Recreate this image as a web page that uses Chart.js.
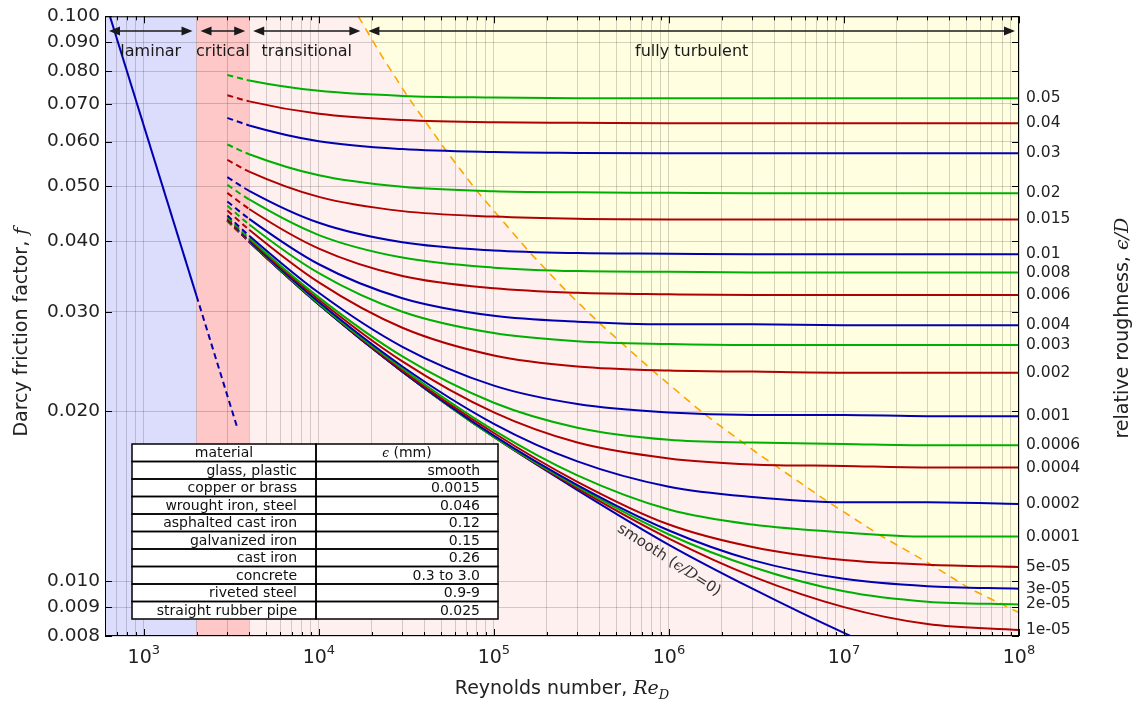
<!DOCTYPE html>
<html>
<head>
<meta charset="utf-8">
<script src="https://cdn.jsdelivr.net/npm/chart.js@4.4.1/dist/chart.umd.min.js"></script>
<style>
  html, body { margin: 0; padding: 0; background: #fff; }
  #wrap { width: 1142px; height: 704px; }
</style>
</head>
<body>
<div id="wrap"><canvas id="moody" width="1142" height="704"></canvas></div>
<script>
const reSamples = [3000, 4000, 1e4, 3e4, 1e5, 3e5, 1e6, 3e6, 1e7, 3e7, 1e8];

// relative roughness of each curve (top to bottom)
const roughLabels = ['0.05', '0.04', '0.03', '0.02', '0.015', '0.01', '0.008', '0.006', '0.004', '0.003',
  '0.002', '0.001', '0.0006', '0.0004', '0.0002', '0.0001', '5e-05', '3e-05', '2e-05', '1e-05'];

// friction factor of each curve at reSamples
const frictionCurves = [
  [0.0787, 0.0770, 0.0738, 0.0723, 0.0718, 0.0716, 0.0716, 0.0716, 0.0716, 0.0716, 0.0716],
  [0.0725, 0.0707, 0.0672, 0.0655, 0.0649, 0.0648, 0.0647, 0.0647, 0.0647, 0.0647, 0.0647],
  [0.0661, 0.0641, 0.0601, 0.0582, 0.0575, 0.0573, 0.0572, 0.0572, 0.0572, 0.0572, 0.0572],
  [0.0593, 0.0570, 0.0523, 0.0499, 0.0490, 0.0488, 0.0487, 0.0486, 0.0486, 0.0486, 0.0486],
  [0.0557, 0.0531, 0.0479, 0.0452, 0.0442, 0.0438, 0.0437, 0.0437, 0.0437, 0.0437, 0.0437],
  [0.0519, 0.0491, 0.0431, 0.0398, 0.0385, 0.0381, 0.0380, 0.0379, 0.0379, 0.0379, 0.0379],
  [0.0503, 0.0474, 0.0410, 0.0374, 0.0359, 0.0354, 0.0353, 0.0352, 0.0352, 0.0352, 0.0352],
  [0.0487, 0.0456, 0.0388, 0.0347, 0.0330, 0.0324, 0.0322, 0.0321, 0.0321, 0.0321, 0.0321],
  [0.0470, 0.0438, 0.0364, 0.0317, 0.0295, 0.0288, 0.0285, 0.0285, 0.0284, 0.0284, 0.0284],
  [0.0462, 0.0428, 0.0351, 0.0300, 0.0275, 0.0266, 0.0263, 0.0262, 0.0262, 0.0262, 0.0262],
  [0.0453, 0.0419, 0.0338, 0.0281, 0.0251, 0.0240, 0.0236, 0.0235, 0.0234, 0.0234, 0.0234],
  [0.0444, 0.0409, 0.0324, 0.0260, 0.0222, 0.0206, 0.0199, 0.0197, 0.0197, 0.0196, 0.0196],
  [0.0441, 0.0405, 0.0318, 0.0250, 0.0207, 0.0187, 0.0178, 0.0176, 0.0175, 0.0174, 0.0174],
  [0.0439, 0.0403, 0.0315, 0.0245, 0.0199, 0.0176, 0.0165, 0.0161, 0.0160, 0.0159, 0.0159],
  [0.0437, 0.0401, 0.0312, 0.0240, 0.0190, 0.0163, 0.0147, 0.0141, 0.0138, 0.0138, 0.0137],
  [0.0436, 0.0400, 0.0310, 0.0238, 0.0185, 0.0154, 0.0134, 0.0126, 0.0122, 0.0120, 0.0120],
  [0.0435, 0.0399, 0.0310, 0.0236, 0.0183, 0.0150, 0.0126, 0.0115, 0.0109, 0.0107, 0.0106],
  [0.0435, 0.0399, 0.0309, 0.0235, 0.0181, 0.0148, 0.0123, 0.0109, 0.0101, 0.0098, 0.0097],
  [0.0435, 0.0399, 0.0309, 0.0235, 0.0180, 0.0147, 0.0121, 0.0106, 0.0096, 0.0092, 0.0091],
  [0.0435, 0.0399, 0.0309, 0.0235, 0.0180, 0.0146, 0.0119, 0.0102, 0.0090, 0.0084, 0.0082]
];
const curveColors = ['#00b000', '#b00000', '#0000b0'];

// smooth pipe curve
const smoothRe = [3000, 4000, 1e4, 3e4, 1e5, 3e5, 1e6, 3e6, 1e7, 3e7];
const smoothF = [0.0435, 0.0399, 0.0309, 0.0235, 0.0180, 0.0145, 0.0116, 0.0097, 0.0081, 0.0070];

// laminar line (solid up to 2000, dashed after)
const laminarRe = [600, 2000, 3400];
const laminarF = [0.1067, 0.032, 0.0188];

// dashed boundary of the fully turbulent zone
const boundaryRe = [1.68e4, 2.29e4, 3.2e4, 5.33e4, 7.98e4, 1.59e5, 2.65e5, 3.98e5, 7.94e5, 1.58e6, 3.16e6, 7.89e6, 1.58e7, 3.15e7, 5.24e7, 1e8];
const boundaryF = [0.100, 0.0850, 0.0723, 0.0578, 0.0491, 0.0383, 0.0324, 0.0287, 0.0237, 0.0198, 0.0169, 0.0139, 0.0121, 0.0107, 0.0097, 0.0088];

// axes
const xDecades = [1e3, 1e4, 1e5, 1e6, 1e7, 1e8];
const xExponents = ['3', '4', '5', '6', '7', '8'];
const xMinorSteps = [2, 3, 4, 5, 6, 7, 8, 9];
const xLowMinors = [600, 700, 800, 900];
const yTicks = [0.008, 0.009, 0.010, 0.020, 0.030, 0.040, 0.050, 0.060, 0.070, 0.080, 0.090, 0.100];

// flow regimes
const regionEdges = [600, 2000, 4000, 18200, 1e8];
const regionNames = ['laminar', 'critical', 'transitional', 'fully turbulent'];

// material table
const materials = ['glass, plastic', 'copper or brass', 'wrought iron, steel', 'asphalted cast iron',
  'galvanized iron', 'cast iron', 'concrete', 'riveted steel', 'straight rubber pipe'];
const roughMm = ['smooth', '0.0015', '0.046', '0.12', '0.15', '0.26', '0.3 to 3.0', '0.9-9', '0.025'];

const FONT = '"DejaVu Sans", sans-serif';
const MATH = '"DejaVu Serif", serif';

const xTickValues = xLowMinors.slice();
xDecades.forEach(d => {
    xTickValues.push(d);
    if (d < 1e8) xMinorSteps.forEach(m => xTickValues.push(m * d));
});
const endValues = frictionCurves.map(c => c[c.length - 1]);

function pts(xs, ys) {
    return xs.map((x, i) => ({ x: x, y: ys[i] }));
}

const datasets = [];
frictionCurves.forEach((c, i) => {
    datasets.push({
        label: roughLabels[i],
        data: pts(reSamples, c),
        borderColor: curveColors[i % 3],
        borderWidth: 2,
        pointRadius: 0,
        cubicInterpolationMode: 'monotone',
        segment: { borderDash: ctx => ctx.p1.parsed.x <= 4000 ? [6, 4] : undefined }
    });
});
datasets.push({
    label: 'smooth',
    data: pts(smoothRe, smoothF),
    borderColor: '#0000b0',
    borderWidth: 2,
    pointRadius: 0,
    cubicInterpolationMode: 'monotone',
    segment: { borderDash: ctx => ctx.p1.parsed.x <= 4000 ? [6, 4] : undefined }
});
datasets.push({
    label: 'laminar',
    data: pts(laminarRe, laminarF),
    borderColor: '#0000b0',
    borderWidth: 2,
    pointRadius: 0,
    segment: { borderDash: ctx => ctx.p0.parsed.x >= 2000 ? [6, 4] : undefined }
});
datasets.push({
    label: 'boundary',
    data: pts(boundaryRe, boundaryF),
    borderColor: '#ffa500',
    borderWidth: 1.6,
    borderDash: [8, 6],
    pointRadius: 0
});

// draws a line of text made of differently styled parts, centred on (cx, cy)
function drawRich(ctx, parts, cx, cy, angle, baseline) {
    ctx.save();
    ctx.translate(cx, cy);
    ctx.rotate(angle);
    ctx.textBaseline = baseline || 'alphabetic';
    ctx.textAlign = 'left';
    let total = 0;
    parts.forEach(p => {
        ctx.font = p.font;
        p.w = ctx.measureText(p.text).width;
        total += p.w;
    });
    let x = -total / 2;
    parts.forEach(p => {
        ctx.font = p.font;
        ctx.fillStyle = p.color || '#222';
        ctx.fillText(p.text, x, p.dy || 0);
        x += p.w;
    });
    ctx.restore();
}

const backgrounds = {
    id: 'backgrounds',
    beforeDraw(chart) {
        const { ctx, chartArea: a, scales } = chart;
        const xs = scales.x, ys = scales.y;
        const fills = ['#dcdcfd', '#fec8c8', '#fff0f0'];
        ctx.save();
        fills.forEach((col, i) => {
            const x0 = xs.getPixelForValue(regionEdges[i]);
            const x1 = xs.getPixelForValue(i === 2 ? regionEdges[4] : regionEdges[i + 1]);
            ctx.fillStyle = col;
            ctx.fillRect(x0, a.top, x1 - x0, a.bottom - a.top);
        });
        // fully turbulent zone: above the dashed boundary
        ctx.fillStyle = '#fffee0';
        ctx.beginPath();
        boundaryRe.forEach((re, i) => {
            const px = xs.getPixelForValue(re), py = ys.getPixelForValue(boundaryF[i]);
            if (i === 0) ctx.moveTo(px, py); else ctx.lineTo(px, py);
        });
        ctx.lineTo(a.right, a.top);
        ctx.closePath();
        ctx.fill();
        ctx.restore();
    }
};

const annotations = {
    id: 'annotations',
    afterDatasetsDraw(chart) {
        const { ctx, scales } = chart;
        const xs = scales.x, ys = scales.y;
        ctx.save();

        // regime arrows
        const ay = 31;
        ctx.strokeStyle = '#1a1a1a';
        ctx.fillStyle = '#1a1a1a';
        ctx.lineWidth = 1.6;
        regionNames.forEach((name, i) => {
            const x0 = xs.getPixelForValue(regionEdges[i]) + 4;
            const x1 = xs.getPixelForValue(regionEdges[i + 1]) - 4;
            ctx.beginPath();
            ctx.moveTo(x0 + 6, ay);
            ctx.lineTo(x1 - 6, ay);
            ctx.stroke();
            ctx.beginPath();
            ctx.moveTo(x0, ay); ctx.lineTo(x0 + 11, ay - 4.5); ctx.lineTo(x0 + 11, ay + 4.5); ctx.closePath();
            ctx.moveTo(x1, ay); ctx.lineTo(x1 - 11, ay - 4.5); ctx.lineTo(x1 - 11, ay + 4.5); ctx.closePath();
            ctx.fill();
            ctx.font = '16px ' + FONT;
            ctx.textAlign = 'center';
            ctx.textBaseline = 'middle';
            ctx.fillText(name, (x0 + x1) / 2, 52);
        });

        // label along the smooth pipe curve
        drawRich(ctx, [
            { text: 'smooth (', font: '15px ' + FONT, color: '#333' },
            { text: '\u03f5/D', font: 'italic 15px ' + MATH, color: '#333' },
            { text: '=0)', font: '15px ' + FONT, color: '#333' }
        ], xs.getPixelForValue(1e6), ys.getPixelForValue(0.0109), 33 * Math.PI / 180, 'middle');

        // materials table
        const tx0 = 132, tx1 = 316, tx2 = 498, ty0 = 444, rh = 17.5;
        const rows = [['material', '']].concat(materials.map((m, i) => [m, roughMm[i]]));
        ctx.fillStyle = '#fff';
        ctx.fillRect(tx0, ty0, tx2 - tx0, rh * rows.length);
        ctx.strokeStyle = '#000';
        ctx.lineWidth = 1.5;
        ctx.font = '14px ' + FONT;
        ctx.textBaseline = 'middle';
        rows.forEach((r, i) => {
            const yTop = ty0 + i * rh;
            ctx.strokeRect(tx0, yTop, tx1 - tx0, rh);
            ctx.strokeRect(tx1, yTop, tx2 - tx1, rh);
            ctx.fillStyle = '#111';
            ctx.font = '14px ' + FONT;
            if (i === 0) {
                ctx.textAlign = 'center';
                ctx.fillText(r[0], (tx0 + tx1) / 2, yTop + rh / 2 + 1);
                drawRich(ctx, [
                    { text: '\u03f5', font: 'italic 12px ' + MATH, color: '#111' },
                    { text: ' (mm)', font: '14px ' + FONT, color: '#111' }
                ], (tx1 + tx2) / 2, yTop + rh / 2 + 1, 0, 'middle');
            } else {
                ctx.textAlign = 'right';
                ctx.fillText(r[0], tx1 - 19, yTop + rh / 2 + 1);
                ctx.fillText(r[1], tx2 - 18, yTop + rh / 2 + 1);
            }
        });
        ctx.restore();
    },
    afterDraw(chart) {
        const { ctx, chartArea: a, scales } = chart;
        ctx.save();
        // inward tick marks and frame
        ctx.strokeStyle = '#000';
        ctx.lineWidth = 1;
        ctx.beginPath();
        xTickValues.forEach(v => {
            const px = Math.round(scales.x.getPixelForValue(v)) + 0.5;
            const len = xDecades.includes(v) ? 7 : 4;
            ctx.moveTo(px, a.bottom); ctx.lineTo(px, a.bottom - len);
            ctx.moveTo(px, a.top); ctx.lineTo(px, a.top + len);
        });
        yTicks.forEach(v => {
            const py = Math.round(scales.y.getPixelForValue(v)) + 0.5;
            ctx.moveTo(a.left, py); ctx.lineTo(a.left + 7, py);
            ctx.moveTo(a.right, py); ctx.lineTo(a.right - 7, py);
        });
        ctx.stroke();
        ctx.strokeRect(a.left + 0.5, a.top + 0.5, a.right - a.left - 1, a.bottom - a.top - 1);

        // x tick labels as 10 with a raised exponent
        xDecades.forEach((d, i) => {
            drawRich(ctx, [
                { text: '10', font: '19px ' + FONT },
                { text: xExponents[i], font: '13px ' + FONT, dy: -9 }
            ], scales.x.getPixelForValue(d), 663, 0);
        });

        // axis titles
        const midY = (a.top + a.bottom) / 2;
        drawRich(ctx, [
            { text: 'Reynolds number, ', font: '19px ' + FONT },
            { text: 'Re', font: 'italic 19px ' + MATH },
            { text: 'D', font: 'italic 13px ' + MATH, dy: 5 }
        ], (a.left + a.right) / 2, 694, 0);
        drawRich(ctx, [
            { text: 'Darcy friction factor, ', font: '19px ' + FONT },
            { text: 'f', font: 'italic 19px ' + MATH }
        ], 27, midY + 6, -Math.PI / 2);
        drawRich(ctx, [
            { text: 'relative roughness, ', font: '19px ' + FONT },
            { text: '\u03f5/D', font: 'italic 19px ' + MATH }
        ], 1128, midY + 2, -Math.PI / 2);
        ctx.restore();
    }
};

const gridColor = 'rgba(0, 0, 0, 0.17)';

new Chart(document.getElementById('moody'), {
    type: 'line',
    data: { datasets: datasets },
    options: {
        responsive: false,
        animation: false,
        devicePixelRatio: 1,
        layout: { padding: { top: 15, left: 0, right: 0, bottom: 0 } },
        plugins: { legend: { display: false }, tooltip: { enabled: false } },
        scales: {
            x: {
                type: 'logarithmic',
                position: 'bottom',
                min: 600,
                max: 1e8,
                afterBuildTicks: s => { s.ticks = xTickValues.map(v => ({ value: v })); },
                afterFit: s => { s.height = 68; },
                grid: { color: gridColor, drawTicks: false },
                border: { display: false },
                ticks: { autoSkip: false, maxRotation: 0, callback: () => '' }
            },
            y: {
                type: 'logarithmic',
                position: 'left',
                min: 0.008,
                max: 0.1,
                afterBuildTicks: s => { s.ticks = yTicks.map(v => ({ value: v })); },
                afterFit: s => { s.width = 105; },
                grid: { color: gridColor, drawTicks: false },
                border: { display: false },
                ticks: {
                    autoSkip: false,
                    padding: 5,
                    color: '#222',
                    font: { family: FONT, size: 18.5 },
                    callback: v => Number(v).toFixed(3)
                }
            },
            y2: {
                type: 'logarithmic',
                position: 'right',
                min: 0.008,
                max: 0.1,
                afterBuildTicks: s => { s.ticks = endValues.map(v => ({ value: v })); },
                afterFit: s => { s.width = 123; },
                grid: { display: false, drawTicks: false },
                border: { display: false },
                ticks: {
                    autoSkip: false,
                    padding: 7,
                    color: '#222',
                    font: { family: FONT, size: 15.5 },
                    callback: (v, i) => roughLabels[i]
                }
            }
        }
    },
    plugins: [backgrounds, annotations]
});
</script>
</body>
</html>
